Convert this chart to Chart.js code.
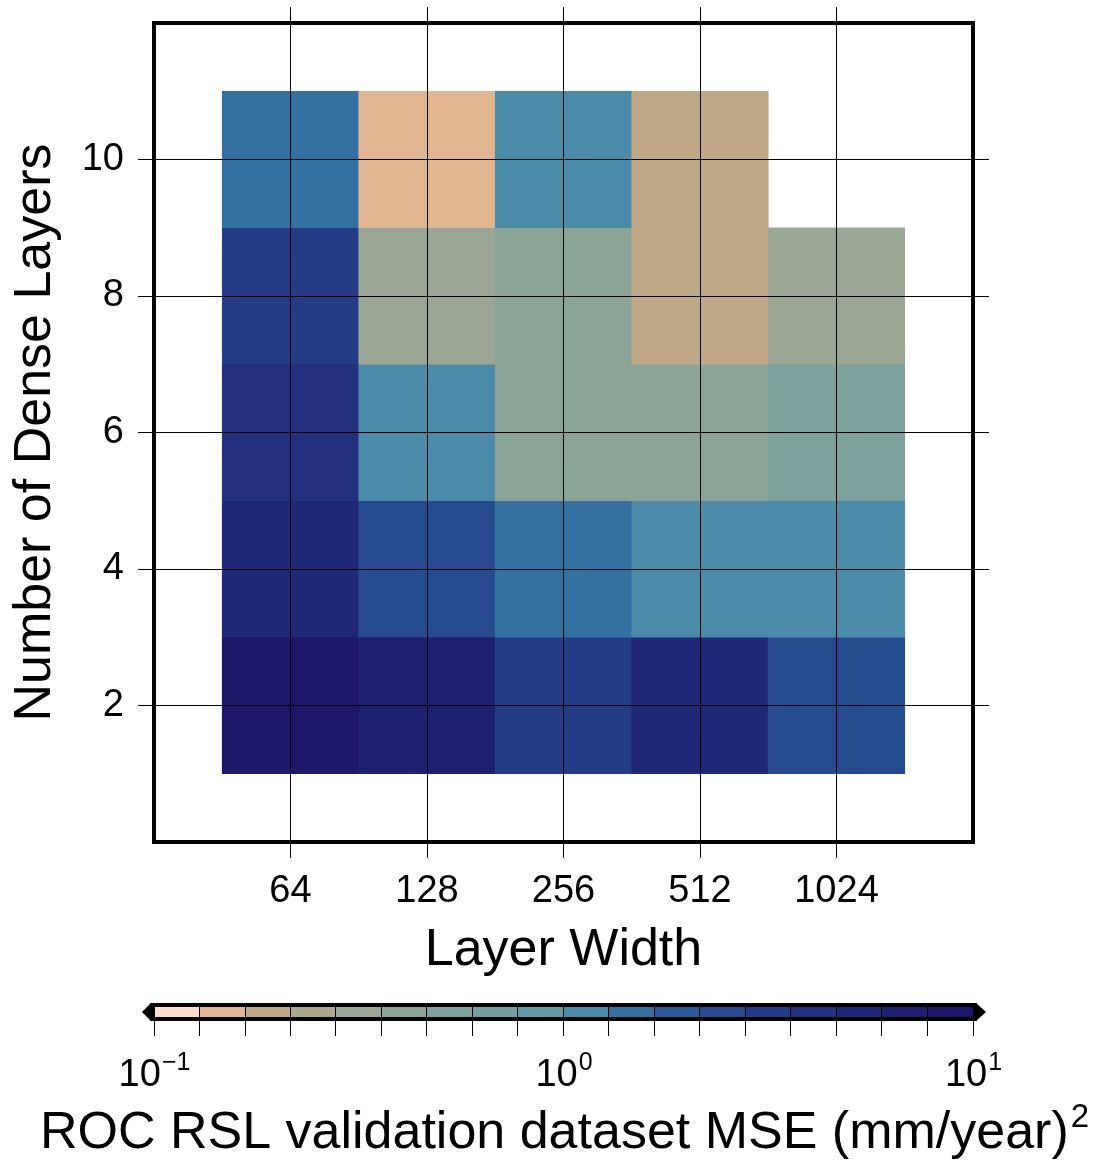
<!DOCTYPE html>
<html>
<head>
<meta charset="utf-8">
<script src="https://cdn.jsdelivr.net/npm/chart.js@4.4.1/dist/chart.umd.min.js"></script>
<style>
  html, body { margin: 0; padding: 0; background: #fff; }
  #wrap { position: relative; width: 1094px; height: 1161px; }
  #heatBox { position: absolute; left: 0; top: 0; width: 1094px; height: 990px; }
  #barBox { position: absolute; left: 0; top: 990px; width: 1094px; height: 171px; }
</style>
</head>
<body>
<div id="wrap">
  <div id="heatBox"><canvas id="heat"></canvas></div>
  <div id="barBox"><canvas id="cbar"></canvas></div>
</div>
<script>
const layerWidths = ['64', '128', '256', '512', '1024'];
const layerCounts = [2, 4, 6, 8, 10];
// validation MSE per number of layers, columns follow layerWidths (null = no run)
const mse2  = [8.8, 6.8, 3.2, 5.3, 2.4];
const mse4  = [5.3, 2.4, 1.5, 1.1, 1.1];
const mse6  = [4.1, 1.1, 0.41, 0.41, 0.53];
const mse8  = [3.2, 0.32, 0.41, 0.19, 0.32];
const mse10 = [1.5, 0.15, 1.1, 0.19, null];
const yTicks = [2, 4, 6, 8, 10];

// discrete log colour bar, 0.1 .. 10
const cbEdges = [0.1, 0.129, 0.167, 0.215, 0.278, 0.359, 0.464, 0.599, 0.774,
                 1, 1.29, 1.67, 2.15, 2.78, 3.59, 4.64, 5.99, 7.74, 10];
const cbColors = ['#FEDCCB', '#E1B692', '#C1A885', '#ABA78C', '#99A794', '#8AA598',
                  '#7DA29D', '#72A0A3', '#6699A6', '#4B8BA8', '#3470A0', '#2C5A98',
                  '#254A8E', '#223D86', '#21317E', '#1F2876', '#1D1F6F', '#1C1768'];
const cbLabels = [[0.1, '\u22121'], [1, '0'], [10, '1']];
const cbTitle = 'ROC RSL validation dataset MSE (mm/year)';

const FONT = '"Liberation Sans", Arial, Helvetica, sans-serif';
Chart.defaults.font.family = FONT;
Chart.defaults.color = '#000';

function colorFor(v) {
  for (let i = 0; i < cbColors.length; i++) {
    if (v < cbEdges[i + 1]) return cbColors[i];
  }
  return cbColors[cbColors.length - 1];
}

const rows = [mse2, mse4, mse6, mse8, mse10];
const cells = [];
rows.forEach((row, r) => {
  row.forEach((v, c) => {
    if (v == null) return;
    cells.push({ x: c + 1, y: [layerCounts[r] - 1, layerCounts[r] + 1], v: v });
  });
});

const gridBase = { color: '#000', lineWidth: 1, tickLength: 16, tickColor: '#000', z: 1, offset: false };

function noPad(s) {
  s.paddingTop = 0; s.paddingBottom = 0; s.paddingLeft = 0; s.paddingRight = 0;
}

const frame = {
  id: 'frame',
  afterDraw(chart) {
    const { ctx, chartArea: a } = chart;
    ctx.save();
    ctx.lineWidth = 4;
    ctx.strokeStyle = '#000';
    ctx.strokeRect(a.left, a.top, a.right - a.left, a.bottom - a.top);
    ctx.restore();
  }
};

new Chart(document.getElementById('heat'), {
  type: 'bar',
  data: {
    datasets: [{
      data: cells,
      backgroundColor: cells.map(d => colorFor(d.v)),
      borderWidth: 0,
      barPercentage: 1,
      categoryPercentage: 1
    }]
  },
  options: {
    responsive: true,
    maintainAspectRatio: false,
    animation: false,
    layout: { padding: 0 },
    plugins: { legend: { display: false }, tooltip: { enabled: false } },
    scales: {
      x: {
        type: 'linear', position: 'bottom', min: 0, max: 6, offset: false,
        afterBuildTicks: s => { s.ticks = layerWidths.map((w, i) => ({ value: i + 1 })); },
        afterFit: s => { s.height = 148; noPad(s); },
        grid: gridBase,
        border: { display: false },
        ticks: { font: { size: 38 }, padding: 11, maxRotation: 0, autoSkip: false,
                 callback: v => layerWidths[v - 1] },
        title: { display: true, text: 'Layer Width', font: { size: 52 }, padding: { top: 0, bottom: 8 } }
      },
      xTop: {
        type: 'linear', position: 'top', min: 0, max: 6, offset: false,
        afterBuildTicks: s => { s.ticks = layerWidths.map((w, i) => ({ value: i + 1 })); },
        afterFit: s => { s.height = 23; noPad(s); },
        grid: { ...gridBase, drawOnChartArea: false },
        border: { display: false },
        ticks: { display: false }
      },
      y: {
        type: 'linear', position: 'left', min: 0, max: 12,
        afterBuildTicks: s => { s.ticks = yTicks.map(v => ({ value: v })); },
        afterFit: s => { s.width = 154; noPad(s); },
        grid: gridBase,
        border: { display: false },
        ticks: { font: { size: 38 }, padding: 14 },
        title: { display: true, text: 'Number of Dense Layers', font: { size: 52 }, padding: { top: 4, bottom: 0 } }
      },
      yRight: {
        type: 'linear', position: 'right', min: 0, max: 12,
        afterBuildTicks: s => { s.ticks = yTicks.map(v => ({ value: v })); },
        afterFit: s => { s.width = 121; noPad(s); },
        grid: { ...gridBase, drawOnChartArea: false },
        border: { display: false },
        ticks: { display: false }
      }
    }
  },
  plugins: [frame]
});

const cbarDecor = {
  id: 'cbarDecor',
  afterDraw(chart) {
    const { ctx, chartArea: a } = chart;
    const sx = chart.scales.x;
    const mid = (a.top + a.bottom) / 2;
    ctx.save();
    ctx.fillStyle = '#000';
    ctx.beginPath();
    ctx.moveTo(a.left - 3, a.top - 4);
    ctx.lineTo(a.left - 12, mid);
    ctx.lineTo(a.left - 3, a.bottom + 4);
    ctx.closePath();
    ctx.fill();
    ctx.beginPath();
    ctx.moveTo(a.right + 3, a.top - 4);
    ctx.lineTo(a.right + 13, mid);
    ctx.lineTo(a.right + 3, a.bottom + 4);
    ctx.closePath();
    ctx.fill();
    ctx.lineWidth = 4;
    ctx.strokeStyle = '#000';
    ctx.strokeRect(a.left - 2, a.top - 2, a.right - a.left + 4, a.bottom - a.top + 4);

    // decade labels 10^n
    ctx.textBaseline = 'alphabetic';
    ctx.textAlign = 'left';
    const baseY = a.bottom + 69;
    cbLabels.forEach(([v, ex]) => {
      ctx.font = '38px ' + FONT;
      const wb = ctx.measureText('10').width;
      ctx.font = '25px ' + FONT;
      const we = ctx.measureText(ex).width;
      const x0 = sx.getPixelForValue(v) - (wb + we) / 2;
      ctx.font = '38px ' + FONT;
      ctx.fillText('10', x0, baseY);
      ctx.font = '25px ' + FONT;
      ctx.fillText(ex, x0 + wb + 1, baseY - 16);
    });

    // axis title with superscript
    ctx.font = '52px ' + FONT;
    const wt = ctx.measureText(cbTitle).width;
    ctx.font = '33px ' + FONT;
    const ws = ctx.measureText('2').width;
    const cx = (a.left + a.right) / 2;
    const tx = cx - (wt + ws) / 2;
    const ty = a.bottom + 131;
    ctx.font = '52px ' + FONT;
    ctx.fillText(cbTitle, tx, ty);
    ctx.font = '33px ' + FONT;
    ctx.fillText('2', tx + wt + 2, ty - 21);
    ctx.restore();
  }
};

new Chart(document.getElementById('cbar'), {
  type: 'bar',
  data: {
    labels: ['mse'],
    datasets: [{
      data: cbColors.map((c, i) => ({ x: [cbEdges[i], cbEdges[i + 1]], y: 'mse' })),
      backgroundColor: cbColors,
      borderWidth: 0,
      barPercentage: 1,
      categoryPercentage: 1
    }]
  },
  options: {
    indexAxis: 'y',
    responsive: true,
    maintainAspectRatio: false,
    animation: false,
    layout: { padding: { left: 154, right: 121, top: 17, bottom: 0 } },
    plugins: { legend: { display: false }, tooltip: { enabled: false } },
    scales: {
      x: {
        type: 'logarithmic', position: 'bottom', min: 0.1, max: 10,
        afterBuildTicks: s => { s.ticks = cbEdges.map(v => ({ value: v })); },
        afterFit: s => { s.height = 144; noPad(s); },
        grid: { color: '#000', lineWidth: 1, tickLength: 19, tickColor: '#000', z: 1 },
        border: { display: false },
        ticks: { display: false }
      },
      y: { display: false }
    }
  },
  plugins: [cbarDecor]
});
</script>
</body>
</html>
